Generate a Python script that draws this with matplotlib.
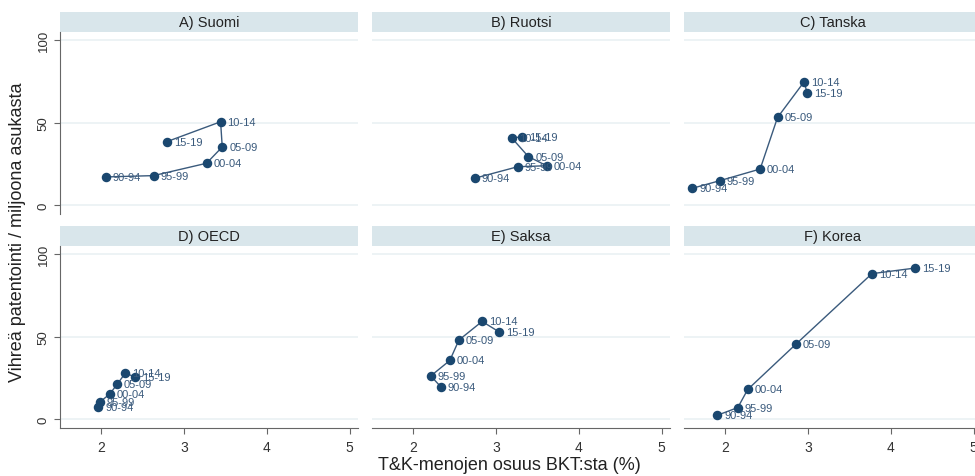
import matplotlib.pyplot as plt

plt.rcParams['font.family'] = ['Liberation Sans', 'DejaVu Sans']

# periodit ja paneelit
periods = ['90-94', '95-99', '00-04', '05-09', '10-14', '15-19']
titles = ['A) Suomi', 'B) Ruotsi', 'C) Tanska', 'D) OECD', 'E) Saksa', 'F) Korea']

# T&K-menot (% BKT) ja vihreät patentit / milj. asukasta
rd_suomi = [2.05, 2.63, 3.27, 3.46, 3.44, 2.79]
pat_suomi = [17.0, 17.8, 25.3, 35.2, 50.5, 38.4]
rd_ruotsi = [2.74, 3.26, 3.61, 3.39, 3.19, 3.31]
pat_ruotsi = [16.2, 23.2, 23.8, 29.3, 40.6, 41.4]
rd_tanska = [1.60, 1.93, 2.42, 2.63, 2.95, 2.99]
pat_tanska = [10.1, 14.7, 21.8, 53.1, 74.7, 67.7]
rd_oecd = [1.96, 1.98, 2.10, 2.19, 2.29, 2.41]
pat_oecd = [7.1, 10.2, 15.1, 21.0, 27.9, 25.3]
rd_saksa = [2.33, 2.21, 2.44, 2.55, 2.83, 3.04]
pat_saksa = [19.6, 26.1, 35.5, 47.9, 59.2, 52.7]
rd_korea = [1.90, 2.15, 2.27, 2.85, 3.77, 4.29]
pat_korea = [2.2, 6.9, 17.9, 45.3, 88.2, 91.6]

data = [(rd_suomi, pat_suomi), (rd_ruotsi, pat_ruotsi), (rd_tanska, pat_tanska),
        (rd_oecd, pat_oecd), (rd_saksa, pat_saksa), (rd_korea, pat_korea)]

navy = '#1a476f'
W, H = 975, 477
fig = plt.figure(figsize=(W / 100, H / 100), dpi=100)
fig.patch.set_facecolor('white')

col_left = [60, 372, 684]
row_top = [13, 227]   # strip top in pixels
pw, ph, sh = 298, 182, 20

for i, (xs, ys) in enumerate(data):
    r, c = divmod(i, 3)
    x0 = col_left[c]
    st = row_top[r]
    # otsikkopalkki
    sax = fig.add_axes([x0 / W, 1 - (st + sh) / H, pw / W, sh / H])
    sax.set_facecolor('#d9e6eb')
    sax.set_xticks([])
    sax.set_yticks([])
    for s in sax.spines.values():
        s.set_visible(False)
    sax.text(0.5, 0.5, titles[i], ha='center', va='center', fontsize=10.5, color='#222222',
             transform=sax.transAxes)

    ax = fig.add_axes([x0 / W, 1 - (st + sh + ph) / H, pw / W, ph / H])
    ax.set_xlim(1.5, 5.1)
    ax.set_ylim(-5.5, 105)
    ax.set_yticks([0, 50, 100])
    ax.set_xticks([2, 3, 4, 5])
    for y in [0, 50, 100]:
        ax.axhline(y, color='#eaf1f4', lw=1.2, zorder=0)
    for s in ['top', 'right']:
        ax.spines[s].set_visible(False)
    ax.spines['left'].set_color('#666666')
    ax.spines['bottom'].set_color('#666666')
    if c == 0:
        ax.tick_params(axis='y', length=4, color='#666666', labelsize=9.5,
                       labelcolor='#333333', labelrotation=90)
        for lab in ax.get_yticklabels():
            lab.set_va('center')
    else:
        ax.spines['left'].set_visible(False)
        ax.tick_params(axis='y', left=False, labelleft=False)
    if r == 1:
        ax.tick_params(axis='x', length=4, color='#666666', labelsize=10,
                       labelcolor='#333333', pad=5)
    else:
        ax.spines['bottom'].set_visible(False)
        ax.tick_params(axis='x', bottom=False, labelbottom=False)

    ax.plot(xs, ys, color='#3a5a7c', lw=1.0, zorder=2)
    ax.scatter(xs, ys, s=34, color=navy, zorder=3, clip_on=False)
    for x, y, p in zip(xs, ys, periods):
        ax.annotate(p, xy=(x, y), xytext=(5, 0), textcoords='offset points',
                    ha='left', va='center', fontsize=8, color='#3a5a7c', zorder=4)

fig.text(18 / W, 1 - 232 / H, 'Vihreä patentointi / miljoona asukasta', rotation=90,
         ha='center', va='center', fontsize=13, color='#222222')
fig.text(509 / W, 1 - 466 / H, 'T&K-menojen osuus BKT:sta (%)',
         ha='center', va='center', fontsize=13, color='#222222')

fig.savefig('out.png', dpi=100, facecolor='white')
